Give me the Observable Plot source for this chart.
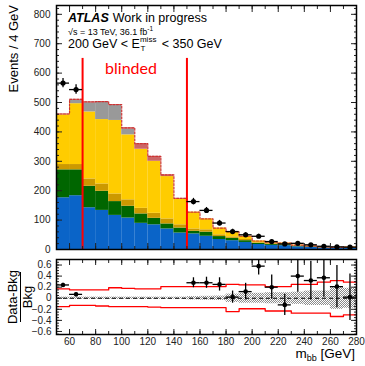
<!DOCTYPE html>
<html>
<head>
<meta charset="utf-8">
<script src="https://cdn.jsdelivr.net/npm/d3@7"></script>
<script src="https://cdn.jsdelivr.net/npm/@observablehq/plot@0.6"></script>
<style>
  body { margin: 0; background: white; }
  #chart svg { display: block; }
</style>
</head>
<body>
<svg width="0" height="0" style="position:absolute">
  <defs>
    <pattern id="hatch" width="2" height="2" patternUnits="userSpaceOnUse">
      <rect width="1" height="1" fill="#8a8a8a"/>
      <rect x="1" y="1" width="1" height="1" fill="#8a8a8a"/>
    </pattern>
  </defs>
</svg>
<div id="chart"></div>
<script>
// ---- bins (GeV) ----
const binLo = [50,60,70,80,90,100,110,120,130,140,150,160,170,180,190,200,210,220,230,240,250,260,270];
const binHi = [60,70,80,90,100,110,120,130,140,150,160,170,180,190,200,210,220,230,240,250,260,270,280];

// ---- stacked background components (events per bin) ----
const compNames = ["blue", "green", "gold", "yellow", "gray", "rose"];
const compColors = ["#0a64c8", "#006600", "#cc9900", "#ffcc00", "#999999", "#cc6666"];
const blue   = [176,183,142,133,116,107,89,84,70,56,53,45,34,30,24,17,14,13,9,7,5,4.5,5];
const green  = [95,88,73,65,47,40,32,22,17,17,9,14,10,8,6,4,3,3,2,2,1,1,1];
const gold   = [18,18,25,25,26,22,19,17,17,11,8,8,6,5,4,2,2,2,1,1,1,0.5,0.5];
const yellow = [169,207,228,219,250,221,201,177,144,88,57,37,23,17,11,6,4,4,3,2,1.5,1.5,2];
const gray   = [0,13,31,58,51,19,0,0,0,0,0,0,0,0,0,0,0,0,0,0,0,0,0];
const rose   = [3,2,3,3,3,5,19,17,6,2,0,0,0,0,0,0,0,0,0,0,0,0,0];

// ---- data (outside blinded window) ----
const dataX    = [55,65,155,165,175,185,195,205,215,225,235,245,255,265,275];
const dataN    = [566,544,163,133,90,61,50,45,27,19,21,16,11,9,8];
const dataErr  = [16,16,11,10,9,8,7,7,5,4,5,4,3,3,3];
const ratioVal = [0.24,0.07,0.28,0.28,0.25,0.02,0.12,0.58,0.2,-0.12,0.4,0.32,0.37,0.21,0.02];
const ratioErr = [0.03,0.03,0.09,0.1,0.12,0.11,0.15,0.16,0.22,0.19,0.29,0.35,0.35,0.38,0.42];

// ---- ratio-panel bands ----
const statBand = [0.02,0.02,0.02,0.02,0.02,0.02,0.02,0.02,0.02,0.02,0.03,0.035,0.04,0.075,0.09,0.09,0.1,0.1,0.11,0.13,0.13,0.2,0.18];
const sysUp    = [0.17,0.15,0.15,0.15,0.19,0.18,0.17,0.17,0.21,0.21,0.21,0.21,0.21,0.25,0.24,0.24,0.21,0.21,0.25,0.25,0.29,0.32,0.29];
const sysDown  = [-0.15,-0.13,-0.13,-0.14,-0.15,-0.15,-0.15,-0.16,-0.17,-0.17,-0.17,-0.17,-0.17,-0.24,-0.19,-0.19,-0.23,-0.23,-0.27,-0.27,-0.27,-0.33,-0.30];

// ---- blinded window ----
const blindEdges = [70, 150];
const blindTop = 650;

// ---- ticks ----
const mainYMajor = [0,100,200,300,400,500,600,700,800];
const mainYMinor = d3.range(0, 831, 20);
const xMajor = [60,80,100,120,140,160,180,200,220,240,260,280];
const xMinor = d3.range(50, 281, 10);
const ratioYMajor = [-0.6,-0.4,-0.2,0,0.2,0.4,0.6];
const ratioYMinor = d3.range(-0.65, 0.701, 0.05);

// ---- derived tables ----
const compArrays = [blue, green, gold, yellow, gray, rose];
const stackRows = [];
compNames.forEach((c, ci) => {
  binLo.forEach((lo, i) => stackRows.push({comp: c, lo, hi: binHi[i], v: compArrays[ci][i]}));
});
const totals = binLo.map((_, i) => compArrays.reduce((s, a) => s + a[i], 0));
const topLine = [];
binLo.forEach((lo, i) => { topLine.push({x: lo, y: totals[i]}); topLine.push({x: binHi[i], y: totals[i]}); });
const dataRows = dataX.map((x, i) => ({x, lo: x - 5, hi: x + 5, n: dataN[i], e: dataErr[i], r: ratioVal[i], re: ratioErr[i]}));
const bandRows = binLo.map((lo, i) => ({lo, hi: binHi[i], b: statBand[i]}));
const upLine = [], downLine = [];
binLo.forEach((lo, i) => {
  upLine.push({x: lo, y: sysUp[i]}); upLine.push({x: binHi[i], y: sysUp[i]});
  downLine.push({x: lo, y: sysDown[i]}); downLine.push({x: binHi[i], y: sysDown[i]});
});

const font = "'Liberation Sans', Arial, Helvetica, sans-serif";
const commonStyle = {fontFamily: font, fontSize: "10px", color: "#222", background: "white", overflow: "visible"};
const empty = () => "";

// ---- main panel ----
const main = Plot.plot({
  width: 365, height: 255,
  marginLeft: 56, marginRight: 9, marginTop: 5, marginBottom: 6,
  style: commonStyle,
  x: {domain: [50, 280]},
  y: {domain: [0, 830]},
  color: {domain: compNames, range: compColors},
  marks: [
    Plot.rectY(stackRows, {x1: "lo", x2: "hi", y: "v", fill: "comp"}),
    Plot.line(topLine, {x: "x", y: "y", stroke: "#cc3333", strokeWidth: 1.2, strokeDasharray: "2,1.5"}),
    Plot.ruleX(blindEdges, {x: d => d, y1: 0, y2: blindTop, stroke: "#ff0000", strokeWidth: 2}),
    Plot.ruleY(dataRows, {x1: "lo", x2: "hi", y: "n", stroke: "black", strokeWidth: 1.3}),
    Plot.ruleX(dataRows, {x: "x", y1: d => d.n - d.e, y2: d => d.n + d.e, stroke: "black", strokeWidth: 1.3}),
    Plot.dot(dataRows, {x: "x", y: "n", r: 2.6, fill: "black"}),
    Plot.axisY(mainYMajor, {anchor: "left", tickSize: -6, tickPadding: 12, label: null, tickFormat: d => d}),
    Plot.axisY(mainYMinor, {anchor: "left", tickSize: -3, tickFormat: empty, label: null}),
    Plot.axisY(mainYMajor, {anchor: "right", tickSize: -6, tickFormat: empty, label: null}),
    Plot.axisY(mainYMinor, {anchor: "right", tickSize: -3, tickFormat: empty, label: null}),
    Plot.axisX(xMajor, {anchor: "bottom", tickSize: -6, tickFormat: empty, label: null}),
    Plot.axisX(xMinor, {anchor: "bottom", tickSize: -3, tickFormat: empty, label: null}),
    Plot.axisX(xMajor, {anchor: "top", tickSize: -6, tickFormat: empty, label: null}),
    Plot.axisX(xMinor, {anchor: "top", tickSize: -3, tickFormat: empty, label: null}),
    Plot.frame({stroke: "black", strokeWidth: 1.5})
  ]
});

// ---- ratio panel ----
const ratio = Plot.plot({
  width: 365, height: 111,
  marginLeft: 56, marginRight: 9, marginTop: 4, marginBottom: 32,
  style: commonStyle,
  x: {domain: [50, 280]},
  y: {domain: [-0.655, 0.70]},
  marks: [
    Plot.rect(bandRows, {x1: "lo", x2: "hi", y1: d => -d.b, y2: d => d.b, fill: "url(#hatch)"}),
    Plot.ruleY([0], {stroke: "black", strokeWidth: 1.2, strokeDasharray: "4,3"}),
    Plot.line(upLine, {x: "x", y: "y", stroke: "#ff0000", strokeWidth: 1.3}),
    Plot.line(downLine, {x: "x", y: "y", stroke: "#ff0000", strokeWidth: 1.3}),
    Plot.ruleY(dataRows, {x1: "lo", x2: "hi", y: "r", stroke: "black", strokeWidth: 1.3, clip: true}),
    Plot.ruleX(dataRows, {x: "x", y1: d => d.r - d.re, y2: d => d.r + d.re, stroke: "black", strokeWidth: 1.3, clip: true}),
    Plot.dot(dataRows, {x: "x", y: "r", r: 2.3, fill: "black", clip: true}),
    Plot.axisY(ratioYMajor, {anchor: "left", tickSize: -6, tickPadding: 11, label: null, tickFormat: d => d3.format(".1f")(d).replace("-", "\u2212").replace(/^0\.0$/, "0")}),
    Plot.axisY(ratioYMinor, {anchor: "left", tickSize: -3, tickFormat: empty, label: null}),
    Plot.axisY(ratioYMajor, {anchor: "right", tickSize: -6, tickFormat: empty, label: null}),
    Plot.axisY(ratioYMinor, {anchor: "right", tickSize: -3, tickFormat: empty, label: null}),
    Plot.axisX(xMajor, {anchor: "bottom", tickSize: -5, tickPadding: 8, label: null, tickFormat: d => d}),
    Plot.axisX(xMinor, {anchor: "bottom", tickSize: -3, tickFormat: empty, label: null}),
    Plot.axisX(xMajor, {anchor: "top", tickSize: -5, tickFormat: empty, label: null}),
    Plot.axisX(xMinor, {anchor: "top", tickSize: -3, tickFormat: empty, label: null}),
    Plot.frame({stroke: "black", strokeWidth: 1.5})
  ]
});

document.getElementById("chart").append(main, ratio);

// ---- annotations (real text with sub/superscripts) ----
const ms = d3.select(main);
const g = ms.append("g").attr("font-family", font).attr("fill", "black").attr("text-anchor", "start");
const t1 = g.append("text").attr("x", 68).attr("y", 22).attr("font-size", 12.5);
t1.append("tspan").attr("font-weight", "bold").attr("font-style", "italic").text("ATLAS");
t1.append("tspan").attr("dx", 4).text("Work in progress");
const t2 = g.append("text").attr("x", 68).attr("y", 35).attr("font-size", 9);
t2.append("tspan").text("\u221As = 13 TeV, 36.1 fb");
t2.append("tspan").attr("font-size", 6.5).attr("dy", -4).text("-1");
const t3 = g.append("text").attr("x", 68).attr("y", 48).attr("font-size", 12.5);
t3.append("tspan").text("200 GeV < E");
t3.append("tspan").attr("font-size", 8).attr("dy", -6).text("miss");
t3.append("tspan").attr("font-size", 8).attr("dx", -16).attr("dy", 9).text("T");
t3.append("tspan").attr("dy", -3).attr("dx", 13).text("\u00A0< 350 GeV");
g.append("text").attr("x", 131).attr("y", 74).attr("text-anchor", "middle")
  .attr("font-family", "Lato, 'Open Sans', sans-serif").attr("font-size", 16).attr("fill", "#ff0000").text("blinded");
g.append("text").attr("transform", "translate(18,5) rotate(-90)").attr("text-anchor", "end")
  .attr("font-size", 13).text("Events / 4 GeV");

const rs = d3.select(ratio);
const gr = rs.append("g").attr("font-family", font).attr("fill", "black").attr("text-anchor", "start");
// ratio y title: fraction (Data-Bkg)/Bkg, rotated; panel-local y center = 297-255 = 42
gr.append("text").attr("transform", "translate(16.5,42) rotate(-90)").attr("text-anchor", "middle")
  .attr("font-size", 13).text("Data-Bkg");
gr.append("line").attr("x1", 20.5).attr("x2", 20.5).attr("y1", 17).attr("y2", 67).attr("stroke", "black").attr("stroke-width", 1);
gr.append("text").attr("transform", "translate(31.5,42) rotate(-90)").attr("text-anchor", "middle")
  .attr("font-size", 13).text("Bkg");
const xt = gr.append("text").attr("x", 355).attr("y", 103).attr("text-anchor", "end").attr("font-size", 13.5);
xt.append("tspan").text("m");
xt.append("tspan").attr("font-size", 9).attr("dy", 3).text("bb");
xt.append("tspan").attr("dy", -3).text(" [GeV]");
</script>
</body>
</html>
